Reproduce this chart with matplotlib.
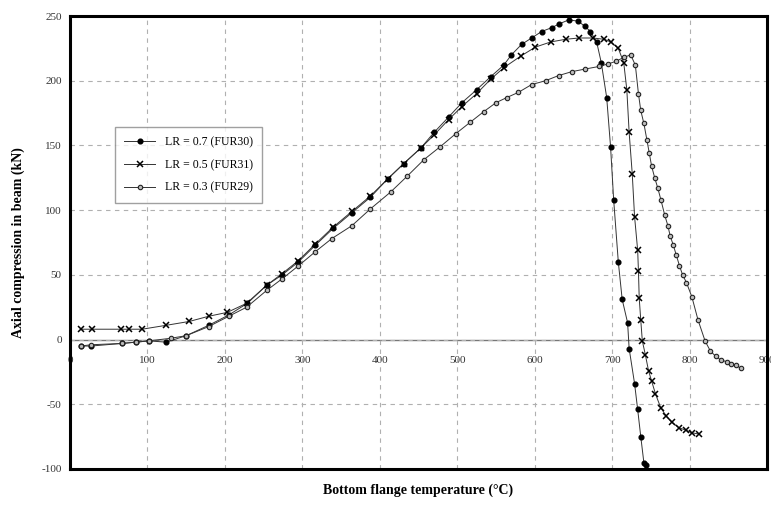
"""Axial compression in beam vs bottom flange temperature, three load ratios."""

import matplotlib
matplotlib.use("Agg")
import matplotlib.pyplot as plt  # noqa: E402

plt.rcParams["font.family"] = ["Liberation Serif", "DejaVu Serif"]
plt.rcParams["axes.unicode_minus"] = False

# LR = 0.7 (FUR30) - filled dots
t07 = [14, 27, 67, 85, 102, 124, 150, 179, 205, 229, 254, 274, 295, 317, 340, 364, 388,
       410, 431, 453, 470, 489, 506, 525, 543, 560, 570, 583, 596, 609, 622, 632, 644,
       656, 665, 672, 680, 686, 693, 698, 702, 708, 713, 720, 722, 729, 733, 737, 741, 744]
f07 = [-5, -5, -3, -2, -1, -2, 3, 11, 19, 28, 42, 50, 60, 73, 86, 98, 110,
       124, 136, 148, 160, 172, 183, 193, 203, 212, 220, 228, 233, 238, 241, 244, 247,
       246, 242, 238, 230, 214, 187, 149, 108, 60, 31, 13, -7, -34, -54, -75, -95, -97]

# LR = 0.5 (FUR31) - crosses
t05 = [14, 28, 66, 76, 93, 124, 154, 179, 203, 228, 254, 274, 295, 317, 340, 364, 388,
       410, 431, 453, 470, 489, 506, 525, 543, 560, 582, 601, 621, 640, 657, 675, 690,
       698, 708, 715, 719, 722, 726, 729, 733, 734, 735, 737, 739, 743, 747, 751, 756,
       763, 770, 777, 786, 795, 803, 812]
f05 = [8, 8, 8, 8, 8, 11, 14, 18, 21, 28, 42, 51, 61, 74, 87, 99, 111,
       124, 136, 148, 158, 170, 180, 190, 201, 210, 219, 226, 230, 232, 233, 233, 232,
       230, 225, 214, 193, 160, 128, 95, 69, 53, 32, 15, -1, -12, -24, -32, -42,
       -53, -59, -64, -68, -70, -72, -73]

# LR = 0.3 (FUR29) - open markers
t03 = [14, 27, 67, 85, 102, 130, 150, 179, 205, 228, 254, 274, 295, 317, 338, 364, 388,
       414, 435, 457, 478, 498, 517, 534, 550, 564, 579, 596, 614, 631, 648, 665, 683,
       695, 705, 715, 724, 730, 734, 737, 741, 745, 748, 751, 755, 759, 763, 768, 772,
       775, 779, 783, 787, 791, 796, 803, 811, 820, 827, 834, 841, 848, 854, 860, 866]
f03 = [-5, -4, -3, -2, -1, 1, 3, 10, 18, 25, 38, 47, 57, 68, 78, 88, 101,
       114, 126, 139, 149, 159, 168, 176, 183, 187, 191, 197, 200, 204, 207, 209, 211,
       213, 215, 218, 220, 212, 190, 177, 167, 154, 144, 134, 125, 117, 108, 96, 88,
       80, 73, 65, 57, 50, 44, 33, 15, -1, -9, -13, -16, -17, -19, -20, -22]

x_ticks = list(range(0, 1000, 100))
y_ticks = list(range(-100, 300, 50))

fig = plt.figure(figsize=(7.71, 5.08), dpi=100)
ax = fig.add_axes([70 / 771, 39 / 508, 697 / 771, 453 / 508])

line_kw = dict(color="#333333", lw=0.7)
ax.plot(t07, f07, marker="o", ms=3.4, mfc="black", mec="black",
        label="LR = 0.7 (FUR30)", **line_kw)
ax.plot(t05, f05, marker="x", ms=4.2, mew=1.1, mec="black",
        label="LR = 0.5 (FUR31)", **line_kw)
ax.plot(t03, f03, marker="o", ms=3.2, mfc="#bbbbbb", mec="#222222", mew=0.8,
        label="LR = 0.3 (FUR29)", **line_kw)

ax.set_xlim(0, 900)
ax.set_ylim(-100, 250)
ax.set_xticks(x_ticks)
ax.set_yticks(y_ticks)
ax.tick_params(axis="x", length=0, labelbottom=False)
ax.tick_params(axis="y", length=0, labelsize=8, pad=6, labelcolor="#333333")
ax.grid(True, color="#b0b0b0", ls=(0, (4, 4)), lw=0.8)
for s in ax.spines.values():
    s.set_linewidth(2.2)
    s.set_color("black")

# x tick labels sit on the zero line, as in the original
sec = ax.secondary_xaxis(100 / 350)
sec.set_xticks(x_ticks)
sec.tick_params(length=0, pad=12, labelsize=8, labelcolor="#333333")
sec.spines["bottom"].set_color("#777777")
sec.spines["bottom"].set_linewidth(1.0)

ax.set_ylabel("Axial compression in beam (kN)", fontsize=10, fontweight="bold", labelpad=12)
fig.text(0.5 * (70 + 767) / 771, 1 - 490 / 508, "Bottom flange temperature (°C)",
         ha="center", va="center", fontsize=10, fontweight="bold")

leg = ax.legend(loc="upper left", bbox_to_anchor=((115 - 70) / 697, (469 - 127) / 453),
                borderaxespad=0, fancybox=False, edgecolor="#888888", fontsize=8.5,
                handlelength=2.6, labelspacing=0.9, borderpad=0.8)
leg.get_frame().set_linewidth(1.0)

fig.savefig("out.png", dpi=100)
